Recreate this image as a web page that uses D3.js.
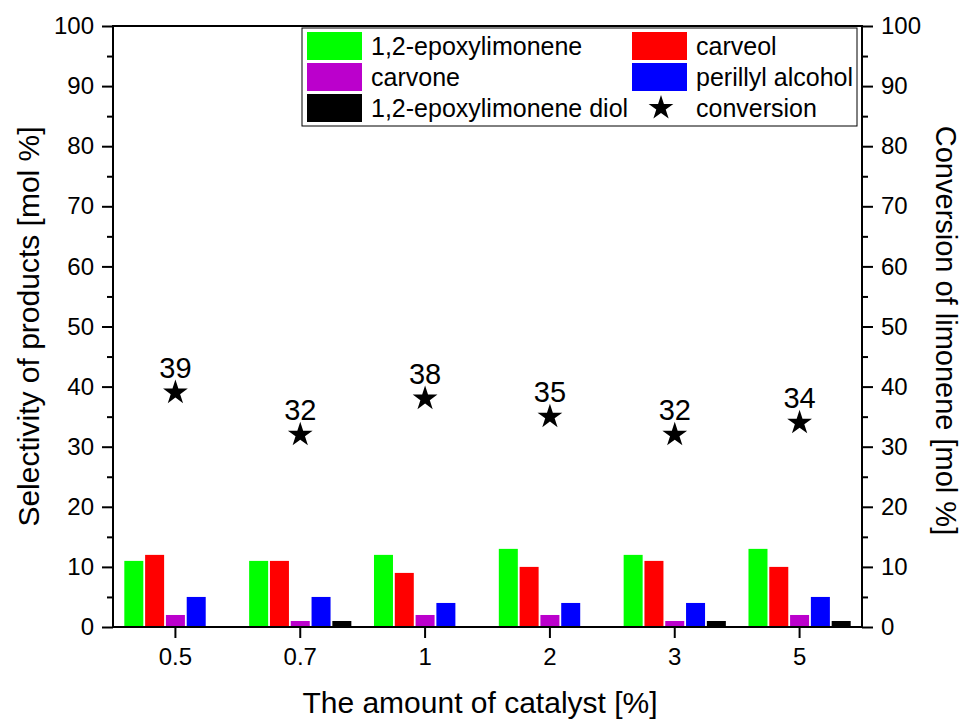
<!DOCTYPE html>
<html>
<head>
<meta charset="utf-8">
<script src="https://cdn.jsdelivr.net/npm/d3@7"></script>
<style>
  html, body { margin: 0; padding: 0; background: #fff; }
  svg { display: block; font-family: Arial, "Liberation Sans", sans-serif; }
</style>
</head>
<body>
<svg id="chart" width="963" height="720"></svg>
<script>
// Catalyst loading and measured product selectivities / limonene conversion
const categories = ["0.5", "0.7", "1", "2", "3", "5"];
const seriesNames = ["1,2-epoxylimonene", "carveol", "carvone", "perillyl alcohol", "1,2-epoxylimonene diol"];
const epoxylimonene = [11, 11, 12, 13, 12, 13];
const carveol = [12, 11, 9, 10, 11, 10];
const carvone = [2, 1, 2, 2, 1, 2];
const perillylAlcohol = [5, 5, 4, 4, 4, 5];
const epoxylimoneneDiol = [0, 1, 0, 0, 1, 1];
const conversion = [39, 32, 38, 35, 32, 34];
const yTicks = [0, 10, 20, 30, 40, 50, 60, 70, 80, 90, 100];

const seriesValues = [epoxylimonene, carveol, carvone, perillylAlcohol, epoxylimoneneDiol];
const colors = ["#00ff00", "#ff0000", "#bb00cc", "#0000ff", "#000000"];

const svg = d3.select("#chart");
const m = { left: 113, right: 862, top: 26, bottom: 627 };

const x = d3.scaleBand().domain(categories).range([m.left, m.right]).padding(0);
const y = d3.scaleLinear().domain([0, 100]).range([m.bottom, m.top]);
const yR = d3.scaleLinear().domain([0, 100]).range([m.bottom, m.top]);
const barW = 19, barStep = 20.8;

// bars
const rows = [];
categories.forEach((c, i) => {
  seriesValues.forEach((vals, s) => {
    rows.push({ c, s, v: vals[i] });
  });
});
svg.append("g").selectAll("rect").data(rows).join("rect")
  .attr("x", d => x(d.c) + x.bandwidth() / 2 + (d.s - 2) * barStep - barW / 2)
  .attr("y", d => y(d.v))
  .attr("width", barW)
  .attr("height", d => y(0) - y(d.v))
  .attr("fill", d => colors[d.s]);

// conversion stars with value labels
const star = d3.symbol().type(d3.symbolStar).size(190);
const conv = svg.append("g").selectAll("g").data(conversion).join("g")
  .attr("transform", (d, i) => `translate(${x(categories[i]) + x.bandwidth() / 2},${yR(d)})`);
conv.append("path").attr("d", star).attr("fill", "#000");
conv.append("text").attr("y", -15).attr("text-anchor", "middle")
  .attr("font-size", 29).text(d => d);

// axes
const axisStyle = g => {
  g.selectAll(".domain").remove();
  g.selectAll("line").attr("stroke", "#000").attr("stroke-width", 2);
  g.selectAll("text").attr("font-size", 24).attr("fill", "#000").attr("font-family", "Arial, 'Liberation Sans', sans-serif");
};
const minorTicks = d3.range(5, 100, 10);

svg.append("g").attr("transform", `translate(${m.left},0)`)
  .call(d3.axisLeft(y).tickValues(yTicks).tickSize(11).tickPadding(8)).call(axisStyle);
svg.append("g").attr("transform", `translate(${m.left},0)`)
  .call(d3.axisLeft(y).tickValues(minorTicks).tickSize(6).tickFormat("")).call(axisStyle);
svg.append("g").attr("transform", `translate(${m.right},0)`)
  .call(d3.axisRight(yR).tickValues(yTicks).tickSize(11).tickPadding(8)).call(axisStyle);
svg.append("g").attr("transform", `translate(${m.right},0)`)
  .call(d3.axisRight(yR).tickValues(minorTicks).tickSize(6).tickFormat("")).call(axisStyle);
svg.append("g").attr("transform", `translate(0,${m.bottom})`)
  .call(d3.axisBottom(x).tickSize(11).tickPadding(10)).call(axisStyle);

// frame
svg.append("rect").attr("x", m.left).attr("y", m.top)
  .attr("width", m.right - m.left).attr("height", m.bottom - m.top)
  .attr("fill", "none").attr("stroke", "#000").attr("stroke-width", 2);

// axis titles
svg.append("text").attr("x", 480).attr("y", 713)
  .attr("text-anchor", "middle").attr("font-size", 30).text("The amount of catalyst [%]");
svg.append("text").attr("transform", `translate(39,${(m.top + m.bottom) / 2}) rotate(-90)`)
  .attr("text-anchor", "middle").attr("font-size", 30).text("Selectivity of products [mol %]");
svg.append("text").attr("transform", `translate(936,${(m.top + m.bottom) / 2 + 4}) rotate(90)`)
  .attr("text-anchor", "middle").attr("font-size", 29).text("Conversion of limonene [mol %]");

// legend
const lg = svg.append("g");
lg.append("rect").attr("x", 302).attr("y", 28).attr("width", 555).attr("height", 98)
  .attr("fill", "#fff").attr("stroke", "#000").attr("stroke-width", 1);
const legendItems = [
  { name: seriesNames[0], color: colors[0], col: 0, row: 0 },
  { name: seriesNames[1], color: colors[1], col: 1, row: 0 },
  { name: seriesNames[2], color: colors[2], col: 0, row: 1 },
  { name: seriesNames[3], color: colors[3], col: 1, row: 1 },
  { name: seriesNames[4], color: colors[4], col: 0, row: 2 },
  { name: "conversion", color: null, col: 1, row: 2 }
];
const colX = [307, 632], rowY = [46, 77, 108];
const li = lg.selectAll("g").data(legendItems).join("g")
  .attr("transform", d => `translate(${colX[d.col]},${rowY[d.row]})`);
li.filter(d => d.color).append("rect")
  .attr("x", 0).attr("y", -14).attr("width", 55).attr("height", 28).attr("fill", d => d.color);
li.filter(d => !d.color).append("path").attr("d", star)
  .attr("transform", "translate(29,0)").attr("fill", "#000");
li.append("text").attr("x", 64).attr("y", 9).attr("font-size", 25).text(d => d.name);
</script>
</body>
</html>
